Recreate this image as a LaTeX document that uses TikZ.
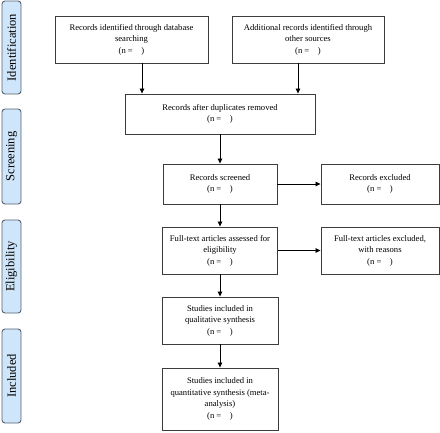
\documentclass[tikz,border=0pt]{standalone}
\usepackage{fontspec}
\setmainfont{Liberation Serif}
\usetikzlibrary{arrows.meta}
\definecolor{sidefill}{HTML}{CFE6FA}
\definecolor{sidedraw}{HTML}{55636F}
\definecolor{boxdraw}{HTML}{3C3C3C}
\tikzset{
  flowbox/.style={draw=boxdraw, line width=0.9pt, fill=white, align=center, inner sep=2pt,
    font=\fontsize{8.6}{11.5}\selectfont},
  sidebar/.style={draw=sidedraw, line width=0.9pt, fill=sidefill, rounded corners=3pt,
    minimum width=19pt, inner sep=0pt},
  sidetext/.style={rotate=90, font=\fontsize{12.5}{14}\selectfont},
  flowarrow/.style={draw=black, line width=0.8pt, -{Triangle[length=5pt,width=4.5pt]}},
}
\begin{document}
\begin{tikzpicture}[x=1pt,y=-1pt]
\useasboundingbox (0,0) rectangle (440,432);
% side bars
\node[sidebar, minimum height=93pt] (s1) at (11.5,47.5) {};
\node[sidetext] (t1) at (s1.center) {Identification};
\node[sidebar, minimum height=95pt] (s2) at (11.5,156.5) {};
\node[sidetext] (t2) at (s2.center) {Screening};
\node[sidebar, minimum height=93pt] (s3) at (11.5,266.5) {};
\node[sidetext] (t3) at (s3.center) {Eligibility};
\node[sidebar, minimum height=94pt] (s4) at (11.5,376) {};
\node[sidetext] (t4) at (s4.center) {Included};
% boxes
\node[flowbox, minimum width=153pt, minimum height=47pt] (id1) at (131.5,39.5)
  {Records identified through database\\searching\\(n =\ \ \ \ )};
\node[flowbox, minimum width=152pt, minimum height=47pt] (id2) at (308,39.5)
  {Additional records identified through\\other sources\\(n =\ \ \ \ )};
\node[flowbox, minimum width=190pt, minimum height=40pt] (dup) at (220,114)
  {Records after duplicates removed\\(n =\ \ \ \ )};
\node[flowbox, minimum width=114pt, minimum height=40pt] (scr) at (220,184)
  {Records screened\\(n =\ \ \ \ )};
\node[flowbox, minimum width=118pt, minimum height=40pt] (exc) at (380,184)
  {Records excluded\\(n =\ \ \ \ )};
\node[flowbox, minimum width=115pt, minimum height=47pt] (ft) at (220,250.5)
  {Full-text articles assessed for\\eligibility\\(n =\ \ \ \ )};
\node[flowbox, minimum width=118pt, minimum height=47pt] (ftx) at (380,250.5)
  {Full-text articles excluded,\\with reasons\\(n =\ \ \ \ )};
\node[flowbox, minimum width=116pt, minimum height=47pt] (qual) at (220,320.5)
  {Studies included in\\qualitative synthesis\\(n =\ \ \ \ )};
\node[flowbox, minimum width=116pt, minimum height=62pt] (quant) at (220,399)
  {Studies included in\\quantitative synthesis (meta-\\analysis)\\(n =\ \ \ \ )};
% arrows
\draw[flowarrow] (id1.south -| 142,0) -- (dup.north -| 142,0);
\draw[flowarrow] (id2.south -| 298,0) -- (dup.north -| 298,0);
\draw[flowarrow] (dup) -- (scr);
\draw[flowarrow] (scr) -- (exc);
\draw[flowarrow] (scr) -- (ft);
\draw[flowarrow] (ft) -- (ftx);
\draw[flowarrow] (ft) -- (qual);
\draw[flowarrow] (qual) -- (quant);
\end{tikzpicture}
\end{document}
